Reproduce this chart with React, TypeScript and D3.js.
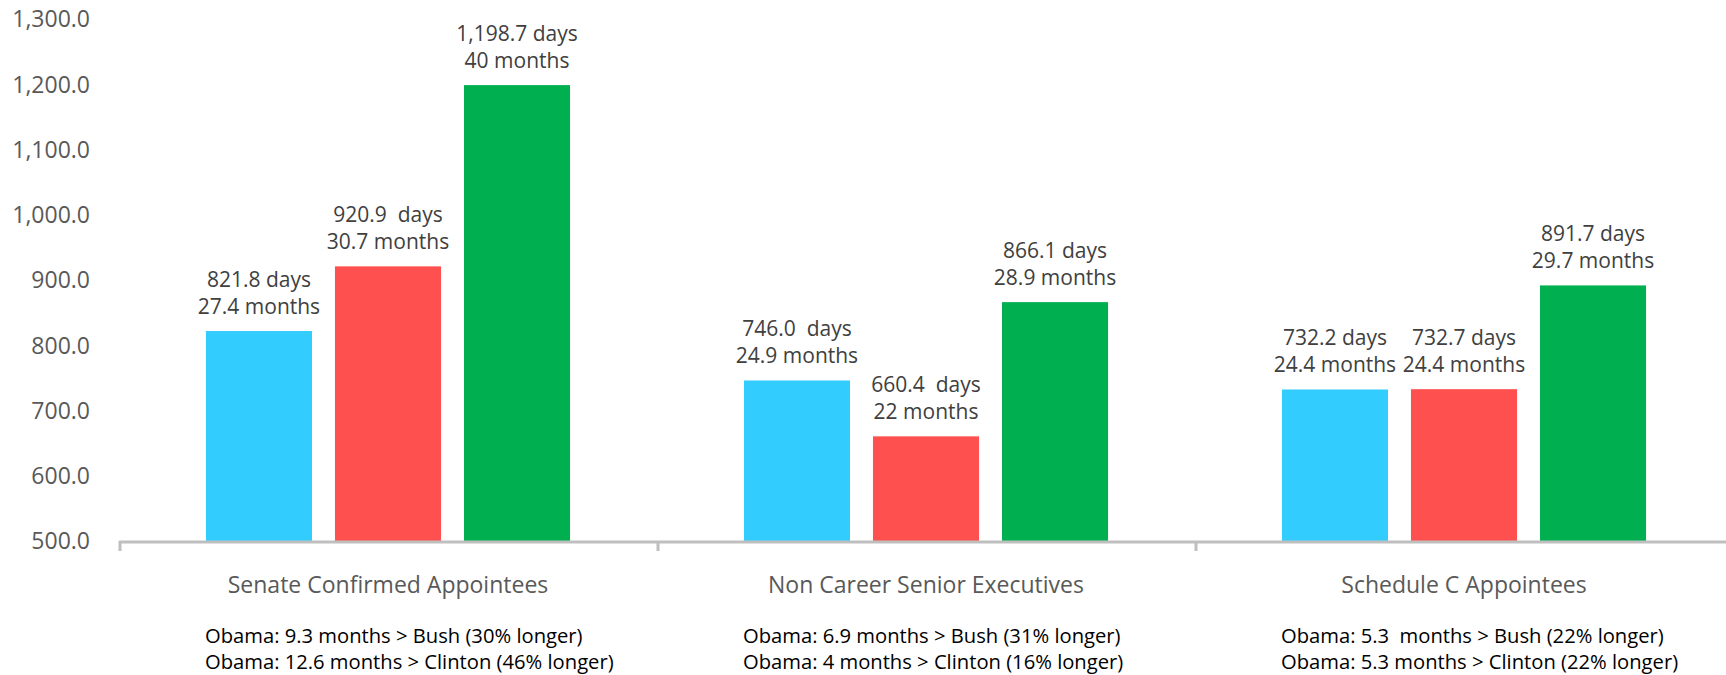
import { useRef, useEffect } from 'react';
import * as d3 from 'd3';

// categories and series
const categories = ['Senate Confirmed Appointees', 'Non Career Senior Executives', 'Schedule C Appointees'];
const seriesNames = ['Clinton', 'Bush', 'Obama'];
const seriesColors = ['#33CCFF', '#FF5050', '#00B050'];

// days per series, one value per category
const clintonDays = [821.8, 746.0, 732.2];
const bushDays = [920.9, 660.4, 732.7];
const obamaDays = [1198.7, 866.1, 891.7];

// value labels as printed on the chart
const clintonLabels = [['821.8 days', '27.4 months'], ['746.0  days', '24.9 months'], ['732.2 days', '24.4 months']];
const bushLabels = [['920.9  days', '30.7 months'], ['660.4  days', '22 months'], ['732.7 days', '24.4 months']];
const obamaLabels = [['1,198.7 days', '40 months'], ['866.1 days', '28.9 months'], ['891.7 days', '29.7 months']];

// comparison notes under each category
const notes = [
  ['Obama: 9.3 months > Bush (30% longer)', 'Obama: 12.6 months > Clinton (46% longer)'],
  ['Obama: 6.9 months > Bush (31% longer)', 'Obama: 4 months > Clinton (16% longer)'],
  ['Obama: 5.3  months > Bush (22% longer)', 'Obama: 5.3 months > Clinton (22% longer)'],
];

const yTicks = [500, 600, 700, 800, 900, 1000, 1100, 1200, 1300];

const FONT = '"Open Sans", "Noto Sans", sans-serif';

export default function App() {
  const svgRef = useRef<SVGSVGElement>(null);

  useEffect(() => {
    const W = 1726;
    const H = 675;
    const allDays = [clintonDays, bushDays, obamaDays];
    const allLabels = [clintonLabels, bushLabels, obamaLabels];

    const data = categories.flatMap((cat, ci) =>
      seriesNames.map((s, si) => ({
        cat,
        series: s,
        value: allDays[si][ci],
        label: allLabels[si][ci],
        color: seriesColors[si],
      }))
    );

    const svg = d3.select(svgRef.current)
      .html('')
      .attr('width', W)
      .attr('height', H);

    // Scales
    const x0 = d3.scaleBand<string>()
      .domain(categories)
      .range([119, 1733])
      .padding(0);

    const x1 = d3.scaleBand<string>()
      .domain(seriesNames)
      .range([0, x0.bandwidth()])
      .paddingInner(0.178)
      .paddingOuter(0.674);

    const y = d3.scaleLinear()
      .domain([500, 1300])
      .range([541, 19]);

    // Y tick labels (no axis line)
    svg.append('g')
      .selectAll('text')
      .data(yTicks)
      .enter()
      .append('text')
      .attr('x', 90)
      .attr('y', d => y(d))
      .attr('dy', '0.36em')
      .attr('text-anchor', 'end')
      .attr('font-family', FONT)
      .attr('font-size', 23)
      .attr('fill', '#595959')
      .text(d => d3.format(',.1f')(d));

    // Bars
    svg.append('g')
      .selectAll('rect')
      .data(data)
      .enter()
      .append('rect')
      .attr('x', d => x0(d.cat)! + x1(d.series)!)
      .attr('y', d => y(d.value))
      .attr('width', x1.bandwidth())
      .attr('height', d => y(500) - y(d.value))
      .attr('fill', d => d.color);

    // X axis line + category ticks
    const axis = svg.append('g');
    axis.append('line')
      .attr('x1', x0.range()[0])
      .attr('x2', x0.range()[1])
      .attr('y1', y(500) + 1)
      .attr('y2', y(500) + 1)
      .attr('stroke', '#BFBFBF')
      .attr('stroke-width', 3);

    const boundaries = categories.map(c => x0(c)!).concat([x0.range()[1]]);
    axis.selectAll('.tick')
      .data(boundaries)
      .enter()
      .append('line')
      .attr('class', 'tick')
      .attr('x1', d => d + 1)
      .attr('x2', d => d + 1)
      .attr('y1', y(500))
      .attr('y2', y(500) + 10)
      .attr('stroke', '#BFBFBF')
      .attr('stroke-width', 3);

    // Value labels above bars
    const lab = svg.append('g')
      .selectAll('text')
      .data(data)
      .enter()
      .append('text')
      .attr('text-anchor', 'middle')
      .attr('font-family', FONT)
      .attr('font-size', 21)
      .attr('fill', '#404040')
      .style('white-space', 'pre');

    lab.append('tspan')
      .attr('x', d => x0(d.cat)! + x1(d.series)! + x1.bandwidth() / 2)
      .attr('y', d => y(d.value) - 44)
      .text(d => d.label[0]);

    lab.append('tspan')
      .attr('x', d => x0(d.cat)! + x1(d.series)! + x1.bandwidth() / 2)
      .attr('y', d => y(d.value) - 17)
      .text(d => d.label[1]);

    // Category labels
    svg.append('g')
      .selectAll('text')
      .data(categories)
      .enter()
      .append('text')
      .attr('x', d => x0(d)! + x0.bandwidth() / 2)
      .attr('y', 593)
      .attr('text-anchor', 'middle')
      .attr('font-family', FONT)
      .attr('font-size', 23)
      .attr('fill', '#595959')
      .text(d => d);

    // Notes, left aligned with the first bar of each group
    const noteG = svg.append('g')
      .selectAll('text')
      .data(categories)
      .enter()
      .append('text')
      .attr('font-family', FONT)
      .attr('font-size', 20.2)
      .attr('fill', '#000')
      .style('white-space', 'pre');

    noteG.each(function (d, i) {
      const t = d3.select(this);
      const left = x0(d)! + x1(seriesNames[0])! - 1;
      notes[i].forEach((line, li) => {
        t.append('tspan')
          .attr('x', left)
          .attr('y', 643 + li * 26)
          .text(line);
      });
    });
  }, []);

  return (
    <div style={{ position: 'absolute', left: 0, top: 0 }}>
      <svg ref={svgRef} style={{ display: 'block' }} />
    </div>
  );
}
